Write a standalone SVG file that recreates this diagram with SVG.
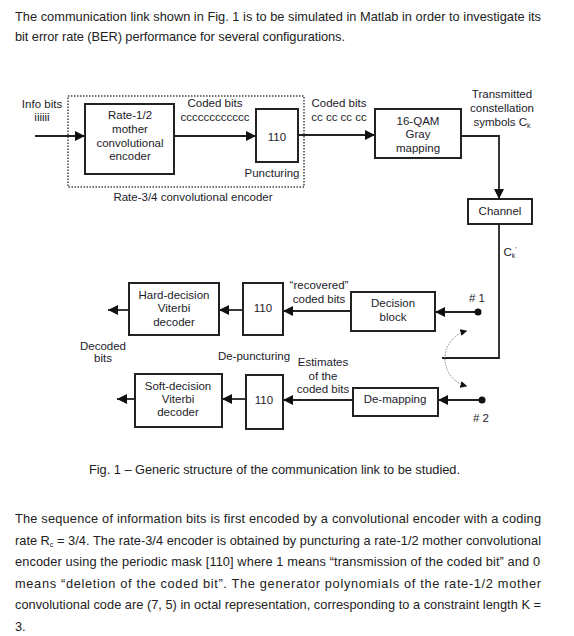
<svg xmlns="http://www.w3.org/2000/svg" width="574" height="636" viewBox="0 0 574 636">
<style>
  text { font-family: "Liberation Sans", Arial, sans-serif; fill: #1c1c2a; }
  .lbl { font-size: 11.5px; text-anchor: middle; }
  .body { font-size: 12.8px; fill: #222; }
  .box { fill: #fff; stroke: #222; stroke-width: 2; }
  .wire { fill: none; stroke: #222; stroke-width: 1.8; }
  .sub { font-size: 7px; }
</style>
<defs>
  <marker id="arr" markerUnits="userSpaceOnUse" markerWidth="10" markerHeight="10" viewBox="0 0 10 10" refX="10" refY="5" orient="auto">
    <path d="M0,0 L10,5 L0,10 z" fill="#111"/>
  </marker>
  <marker id="arrs" markerUnits="userSpaceOnUse" markerWidth="7" markerHeight="7" viewBox="0 0 10 10" refX="8" refY="5" orient="auto-start-reverse">
    <path d="M0,0 L10,5 L0,10 z" fill="#111"/>
  </marker>
</defs>

<rect width="574" height="636" fill="#fff"/>

<!-- intro text -->
<text class="body" x="15" y="21" textLength="526" lengthAdjust="spacing">The communication link shown in Fig. 1 is to be simulated in Matlab in order to investigate its</text>
<text class="body" x="15" y="41" textLength="330" lengthAdjust="spacing">bit error rate (BER) performance for several configurations.</text>

<!-- dotted encoder frame -->
<g id="rate34-encoder">
  <rect x="68" y="96" width="236" height="91" fill="none" stroke="#444" stroke-width="1.5" stroke-dasharray="1.5 1.5"/>
  <text class="lbl" x="193" y="201">Rate-3/4 convolutional encoder</text>
</g>

<!-- connectors -->
<g id="connectors">
  <line class="wire" x1="35" y1="136" x2="85" y2="136" marker-end="url(#arr)"/>
  <line class="wire" x1="174" y1="136" x2="256" y2="136" marker-end="url(#arr)"/>
  <line class="wire" x1="298" y1="135" x2="375" y2="135" marker-end="url(#arr)"/>
  <path class="wire" d="M461,136 H499 V199" marker-end="url(#arr)"/>
  <path class="wire" d="M499,224 V358 H442"/>
  <line class="wire" x1="478" y1="312" x2="435" y2="312" marker-end="url(#arr)"/>
  <line class="wire" x1="351" y1="311" x2="283" y2="311" marker-end="url(#arr)"/>
  <line class="wire" x1="243" y1="310" x2="219" y2="310" marker-end="url(#arr)"/>
  <line class="wire" x1="129" y1="310" x2="108" y2="310" marker-end="url(#arr)"/>
  <line class="wire" x1="482" y1="400" x2="438" y2="400" marker-end="url(#arr)"/>
  <line class="wire" x1="353" y1="400" x2="283" y2="400" marker-end="url(#arr)"/>
  <line class="wire" x1="246" y1="399" x2="222" y2="399" marker-end="url(#arr)"/>
  <line class="wire" x1="135" y1="399" x2="117" y2="399" marker-end="url(#arr)"/>
  <path d="M466,331 A28.5,28.5 0 0 0 466,386" fill="none" stroke="#888" stroke-width="1" stroke-dasharray="1.5 1.2" marker-start="url(#arrs)" marker-end="url(#arrs)"/>
  <circle cx="478" cy="312" r="3.5" fill="#111"/>
  <circle cx="482" cy="400" r="3.5" fill="#111"/>
</g>

<!-- labels on connectors -->
<g id="labels">
  <text class="lbl" x="42" y="108">Info bits</text>
  <text class="lbl" x="42" y="121">iiiiii</text>
  <text class="lbl" x="215" y="107">Coded bits</text>
  <text class="lbl" x="215" y="121">cccccccccccc</text>
  <text class="lbl" x="339" y="107">Coded bits</text>
  <text class="lbl" x="339" y="121">cc cc cc cc</text>
  <text class="lbl" x="502" y="98">Transmitted</text>
  <text class="lbl" x="502" y="112">constellation</text>
  <text class="lbl" x="502" y="126">symbols C<tspan class="sub" dy="2">k</tspan></text>
  <text class="lbl" x="510" y="256">C<tspan class="sub" dy="2">k</tspan><tspan class="sub" dy="-6">'</tspan></text>
  <text class="lbl" x="477" y="302"># 1</text>
  <text class="lbl" x="481" y="422"># 2</text>
  <text class="lbl" x="319" y="289">“recovered”</text>
  <text class="lbl" x="319" y="303">coded bits</text>
  <text class="lbl" x="103" y="350">Decoded</text>
  <text class="lbl" x="103" y="362">bits</text>
  <text class="lbl" x="254" y="360">De-puncturing</text>
  <text class="lbl" x="323" y="366">Estimates</text>
  <text class="lbl" x="323" y="380">of the</text>
  <text class="lbl" x="323" y="393">coded bits</text>
</g>

<g id="mother-encoder">
  <rect class="box" x="85" y="104" width="89" height="70"/>
  <text class="lbl" x="130" y="119">Rate-1/2</text>
  <text class="lbl" x="130" y="133">mother</text>
  <text class="lbl" x="130" y="147">convolutional</text>
  <text class="lbl" x="130" y="160">encoder</text>
</g>

<g id="puncturing">
  <rect class="box" x="256" y="109" width="42" height="53"/>
  <text class="lbl" x="277" y="141">110</text>
  <text class="lbl" x="272" y="177">Puncturing</text>
</g>

<g id="qam-mapping">
  <rect class="box" x="375" y="109" width="86" height="49"/>
  <text class="lbl" x="418" y="125">16-QAM</text>
  <text class="lbl" x="418" y="138">Gray</text>
  <text class="lbl" x="418" y="152">mapping</text>
</g>

<g id="channel">
  <rect class="box" x="468" y="199" width="64" height="25"/>
  <text class="lbl" x="500" y="215">Channel</text>
</g>

<g id="decision-block">
  <rect class="box" x="351" y="292" width="84" height="39"/>
  <text class="lbl" x="393" y="307">Decision</text>
  <text class="lbl" x="393" y="321">block</text>
</g>

<g id="depuncture-hard">
  <rect class="box" x="243" y="283" width="40" height="52"/>
  <text class="lbl" x="263" y="312">110</text>
</g>

<g id="hard-viterbi">
  <rect class="box" x="129" y="283" width="90" height="52"/>
  <text class="lbl" x="174" y="299">Hard-decision</text>
  <text class="lbl" x="174" y="312">Viterbi</text>
  <text class="lbl" x="174" y="326">decoder</text>
</g>

<g id="demapping">
  <rect class="box" x="353" y="388" width="85" height="28"/>
  <text class="lbl" x="395" y="403">De-mapping</text>
</g>

<g id="depuncture-soft">
  <rect class="box" x="246" y="375" width="37" height="54"/>
  <text class="lbl" x="264" y="404">110</text>
</g>

<g id="soft-viterbi">
  <rect class="box" x="135" y="374" width="87" height="53"/>
  <text class="lbl" x="178" y="390">Soft-decision</text>
  <text class="lbl" x="178" y="403">Viterbi</text>
  <text class="lbl" x="178" y="416">decoder</text>
</g>

<!-- caption and paragraph -->
<text class="body" x="89" y="474" textLength="371" lengthAdjust="spacing">Fig. 1 – Generic structure of the communication link to be studied.</text>
<text class="body" x="15" y="523" textLength="526" lengthAdjust="spacing">The sequence of information bits is first encoded by a convolutional encoder with a coding</text>
<text class="body" x="15" y="545">rate R<tspan class="sub" dy="2">c</tspan></text>
<text class="body" x="57" y="545" textLength="484" lengthAdjust="spacing">= 3/4. The rate-3/4 encoder is obtained by puncturing a rate-1/2 mother convolutional</text>
<text class="body" x="15" y="566" textLength="525" lengthAdjust="spacing">encoder using the periodic mask [110] where 1 means “transmission of the coded bit” and 0</text>
<text class="body" x="15" y="588" textLength="526" lengthAdjust="spacing">means “deletion of the coded bit”. The generator polynomials of the rate-1/2 mother</text>
<text class="body" x="15" y="609" textLength="526" lengthAdjust="spacing">convolutional code are (7, 5) in octal representation, corresponding to a constraint length K =</text>
<text class="body" x="15" y="631">3.</text>
</svg>
